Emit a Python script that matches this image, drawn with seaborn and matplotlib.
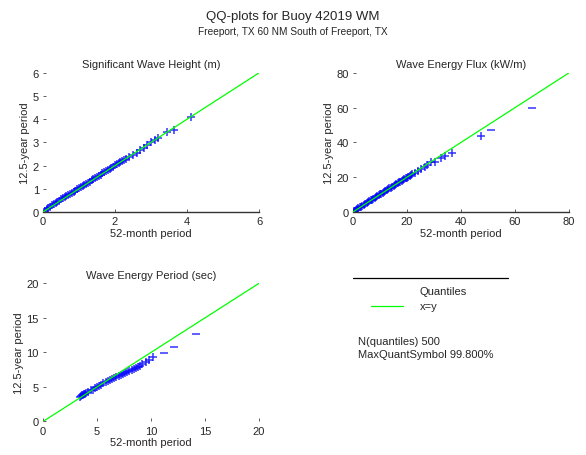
import matplotlib
matplotlib.use("Agg")
import matplotlib.pyplot as plt
import seaborn as sns
import pandas as pd

# quantiles (52-month period vs 12.5-year period)
hs_x = [0.05, 0.10, 0.15, 0.20, 0.25, 0.30, 0.35, 0.40, 0.45, 0.50, 0.55, 0.60,
        0.65, 0.70, 0.75, 0.80, 0.85, 0.90, 0.95, 1.00, 1.05, 1.10, 1.15, 1.20,
        1.25, 1.30, 1.35, 1.40, 1.45, 1.50, 1.55, 1.60, 1.65, 1.70, 1.75, 1.80,
        1.85, 1.90, 1.95, 2.00, 2.05, 2.10, 2.15, 2.20, 2.25, 2.30, 2.40, 2.50,
        2.60, 2.70, 2.80, 2.90, 3.00, 3.10, 3.20, 3.45, 3.65, 4.10]
hs_y = [0.05, 0.11, 0.17, 0.22, 0.28, 0.33, 0.38, 0.44, 0.49, 0.54, 0.59, 0.64,
        0.69, 0.73, 0.78, 0.83, 0.88, 0.92, 0.97, 1.02, 1.07, 1.12, 1.16, 1.21,
        1.26, 1.31, 1.36, 1.41, 1.46, 1.51, 1.56, 1.61, 1.66, 1.71, 1.76, 1.81,
        1.86, 1.91, 1.96, 2.01, 2.06, 2.11, 2.16, 2.21, 2.26, 2.30, 2.36, 2.45,
        2.55, 2.67, 2.78, 2.90, 3.00, 3.10, 3.18, 3.45, 3.55, 4.10]

flux_x = [0.3, 0.6, 1.0, 1.5, 2.0, 2.5, 3.0, 3.5, 4.0, 4.5, 5.0, 5.5, 6.0, 6.5,
          7.0, 7.5, 8.0, 8.5, 9.0, 9.5, 10.0, 10.5, 11.0, 11.5, 12.0, 12.5,
          13.0, 13.5, 14.0, 14.5, 15.0, 15.5, 16.0, 16.5, 17.0, 17.5, 18.0,
          18.5, 19.0, 19.5, 20.0, 20.5, 21.0, 21.5, 22.0, 23, 24, 25, 26.5,
          27.5, 29, 30.5, 32.5, 34, 36.5, 47.4, 51, 66.3]
flux_y = [0.3, 0.7, 1.1, 1.6, 2.1, 2.6, 3.1, 3.6, 4.1, 4.6, 5.1, 5.6, 6.1, 6.6,
          7.1, 7.6, 8.1, 8.6, 9.1, 9.6, 10.1, 10.6, 11.1, 11.5, 12.0, 12.5,
          13.0, 13.5, 14.0, 14.5, 15.0, 15.5, 16.0, 16.5, 17.0, 17.5, 18.0,
          18.5, 19.0, 19.4, 19.8, 20.3, 20.8, 21.3, 21.8, 22.5, 23.5, 24.5, 26,
          27, 28.5, 29, 31, 32, 33.8, 43.6, 47.4, 59.7]

te_x = [3.4, 3.5, 3.6, 3.7, 3.8, 3.9, 4.0, 4.2, 4.4, 4.6, 4.8, 5.0, 5.2, 5.4,
        5.6, 5.8, 6.0, 6.2, 6.4, 6.6, 6.8, 7.0, 7.2, 7.4, 7.6, 7.8, 8.0, 8.2,
        8.4, 8.6, 8.8, 9.0, 9.2, 9.5, 9.8, 10.2, 11.2, 12.1, 14.2]
te_y = [3.6, 3.7, 3.8, 3.9, 4.0, 4.0, 4.1, 4.3, 4.5, 4.6, 4.8, 5.0, 5.2, 5.3,
        5.5, 5.7, 5.8, 6.0, 6.1, 6.3, 6.4, 6.6, 6.7, 6.9, 7.0, 7.2, 7.3, 7.5,
        7.6, 7.8, 7.9, 8.1, 8.3, 8.6, 8.9, 9.3, 9.9, 10.8, 12.7]

titles = ["Significant Wave Height (m)", "Wave Energy Flux (kW/m)",
          "Wave Energy Period (sec)"]
limits = [6, 80, 20]
tick_steps = [1, 20, 5]
xtick_steps = [2, 20, 5]

sns.set_theme(style="white")
plt.rcParams['font.family'] = ['Liberation Sans', 'DejaVu Sans']

fig = plt.figure(figsize=(5.86, 4.56), dpi=100)
rects = [[0.0734, 0.533, 0.3686, 0.305],
         [0.6024, 0.533, 0.3686, 0.305],
         [0.0734, 0.0735, 0.3686, 0.303]]

# tail quantiles that MATLAB drew as flat dashes
dash_tail = [0, 2, 3]

data = [(hs_x, hs_y), (flux_x, flux_y), (te_x, te_y)]
for i, (qx, qy) in enumerate(data):
    ax = fig.add_axes(rects[i])
    lim = limits[i]
    n = len(qx) - dash_tail[i]
    df = pd.DataFrame({'x': qx[:n], 'y': qy[:n]})
    tail = pd.DataFrame({'x': qx[n:], 'y': qy[n:]})
    line = pd.DataFrame({'x': [0, lim], 'y': [0, lim]})
    sns.lineplot(data=line, x='x', y='y', color='#00ff00', lw=0.9, ax=ax, zorder=3)
    sns.scatterplot(data=df, x='x', y='y', marker='+', color='blue', s=40,
                    linewidth=1.1, alpha=0.8, ax=ax, zorder=2)
    if len(tail):
        sns.scatterplot(data=tail, x='x', y='y', marker='_', color='blue', s=40,
                        linewidth=1.1, alpha=0.8, ax=ax, zorder=2)
    ax.set_xlim(0, lim)
    ax.set_ylim(0, lim)
    ax.set_xticks([v * xtick_steps[i] for v in range(lim // xtick_steps[i] + 1)])
    ax.set_yticks([v * tick_steps[i] for v in range(lim // tick_steps[i] + 1)])
    ax.set_title(titles[i], fontsize=8, pad=4)
    ax.set_xlabel('52-month period', fontsize=8, labelpad=1)
    ax.set_ylabel('12.5-year period', fontsize=8, labelpad=2)
    ax.tick_params(axis='both', labelsize=8, direction='in', length=2,
                   width=0.6, color='#444444', pad=3, left=True, bottom=True)
    for s in ['top', 'right', 'left']:
        ax.spines[s].set_visible(False)
    if i < 2:
        ax.spines['bottom'].set_color('#333333')
        ax.spines['bottom'].set_linewidth(1.0)
    else:
        ax.spines['bottom'].set_visible(False)

# legend / info panel
lax = fig.add_axes([0, 0, 1, 1])
lax.set_xlim(0, 586)
lax.set_ylim(456, 0)
lax.axis('off')
lax.plot([353, 508], [279, 279], color='black', lw=0.9)
lax.text(420, 292, 'Quantiles', fontsize=8, va='center')
lax.plot([371, 403], [307, 307], color='#00ff00', lw=0.9)
lax.text(420, 307, 'x=y', fontsize=8, va='center')
lax.text(358, 342, 'N(quantiles) 500', fontsize=8, va='center')
lax.text(358, 355, 'MaxQuantSymbol 99.800%', fontsize=8, va='center')

fig.text(0.5, 1 - 17 / 456, 'QQ-plots for Buoy 42019 WM', ha='center',
         va='center', fontsize=9.5)
fig.text(0.5, 1 - 32 / 456, 'Freeport, TX 60 NM South of Freeport, TX',
         ha='center', va='center', fontsize=7.3)

fig.savefig('out.png', dpi=100)
